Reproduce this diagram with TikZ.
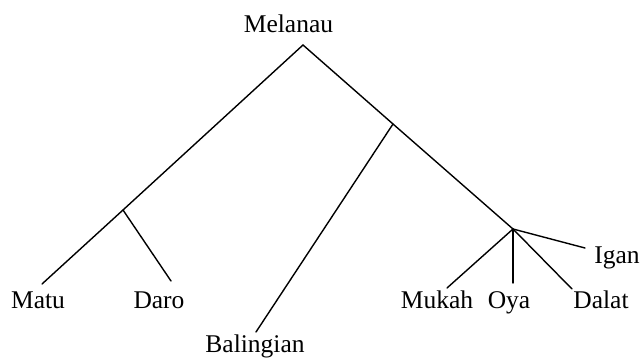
\documentclass[tikz,border=0pt]{standalone}
\usepackage{fontspec}
\setmainfont{Liberation Serif}
\begin{document}
\begin{tikzpicture}[x=1pt,y=-1pt,
  lbl/.style={anchor=base,inner sep=0pt,font=\fontsize{25.5}{28}\selectfont},
  branch/.style={line width=1.4pt,line cap=round}]
\useasboundingbox (0,0) rectangle (640,358);
% labels
\node[lbl] (melanau) at (288.5,33) {Melanau};
\node[lbl] (matu) at (38,308) {Matu};
\node[lbl] (daro) at (159,308) {Daro};
\node[lbl] (balingian) at (255,352) {Balingian};
\node[lbl] (mukah) at (437,308) {Mukah};
\node[lbl] (oya) at (509,308) {Oya};
\node[lbl] (dalat) at (601,308) {Dalat};
\node[lbl] (igan) at (617,263) {Igan};
% branch points
\coordinate (top) at (303,45);
\coordinate (left) at (123,210);
\coordinate (mid) at (393,124);
\coordinate (right) at (513,229);
% line ends
\coordinate (ematu) at (42,284);
\coordinate (edaro) at (171,281);
\coordinate (ebal) at (256,332);
\coordinate (emukah) at (447,288);
\coordinate (eoya) at (513,283);
\coordinate (edalat) at (572,289);
\coordinate (eigan) at (585,248);
% connectors
\draw[branch] (top) -- (left) -- (ematu);
\draw[branch] (left) -- (edaro);
\draw[branch] (top) -- (mid) -- (right);
\draw[branch] (mid) -- (ebal);
\draw[branch] (right) -- (emukah);
\draw[branch] (right) -- (eoya);
\draw[branch] (right) -- (edalat);
\draw[branch] (right) -- (eigan);
\end{tikzpicture}
\end{document}
